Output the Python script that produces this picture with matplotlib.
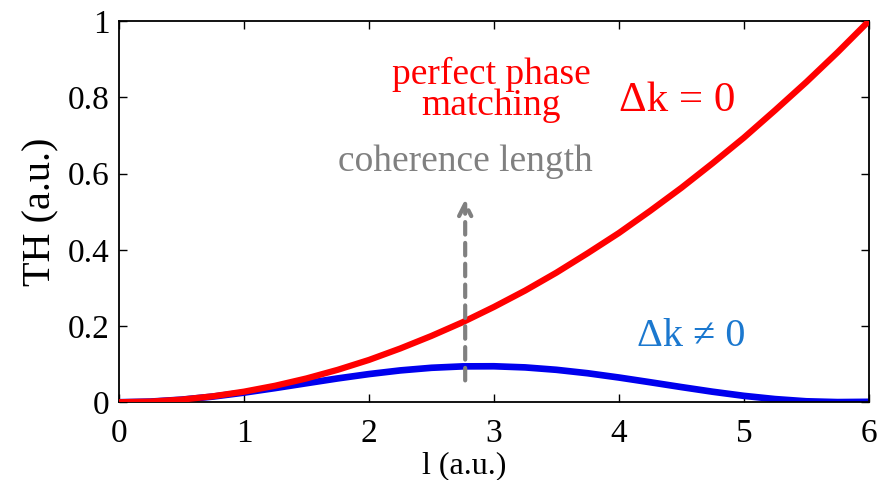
import matplotlib.pyplot as plt

# length l (a.u.)
l = [0, 0.25, 0.5, 0.75, 1, 1.25, 1.5, 1.75, 2, 2.25, 2.5, 2.75, 3,
     3.25, 3.5, 3.75, 4, 4.25, 4.5, 4.75, 5, 5.25, 5.5, 5.75, 6]

# Delta k = 0 (perfect phase matching)
th_matched = [0, 0.0017, 0.0069, 0.0156, 0.0278, 0.0434, 0.0625, 0.0851,
              0.111, 0.141, 0.174, 0.210, 0.25, 0.293, 0.340, 0.391, 0.444,
              0.502, 0.5625, 0.627, 0.694, 0.766, 0.840, 0.918, 1.0]

# Delta k != 0
th_mismatch = [0, 0.0017, 0.0068, 0.0148, 0.0252, 0.0372, 0.0499, 0.0625,
               0.0739, 0.0835, 0.0904, 0.0941, 0.0944, 0.0914, 0.0851,
               0.0761, 0.0649, 0.0525, 0.0398, 0.0276, 0.0168, 0.0083,
               0.0025, 0.0004, 0.0011]

xticks = [0, 1, 2, 3, 4, 5, 6]
yticks = [0, 0.2, 0.4, 0.6, 0.8, 1]
ytick_labels = ['0', '0.2', '0.4', '0.6', '0.8', '1']

plt.rcParams['font.family'] = ['Liberation Serif', 'DejaVu Serif']

fig, ax = plt.subplots(figsize=(8.82, 4.8), dpi=100)
fig.subplots_adjust(left=0.135, right=0.985, top=0.956, bottom=0.162)

ax.plot(l, th_mismatch, color='#0000ee', linewidth=4.8, zorder=2,
        solid_capstyle='butt')
ax.plot(l, th_matched, color='#ff0000', linewidth=4.5, zorder=3,
        solid_capstyle='butt')

# coherence length arrow
ax.annotate('', xy=(2.77, 0.54), xytext=(2.77, 0.05),
            arrowprops=dict(arrowstyle='->', color='#808080', lw=3,
                            linestyle=(0, (3, 2)), mutation_scale=22),
            zorder=4)

ax.text(2.77, 0.63, 'coherence length', color='#808080', fontsize=27,
        ha='center', va='center')
ax.text(2.98, 0.82, 'perfect phase\nmatching', color='#ff0000', fontsize=27,
        ha='center', va='center', linespacing=0.85)
ax.text(4.47, 0.79, '\u0394k = 0', color='#ff0000', fontsize=31,
        ha='center', va='center')
ax.text(4.58, 0.173, '\u0394k \u2260 0', color='#1b78cf', fontsize=29,
        ha='center', va='center')

ax.set_xlim(0, 6)
ax.set_ylim(0, 1)
ax.set_xticks(xticks)
ax.set_yticks(yticks)
ax.set_yticklabels(ytick_labels)
ax.tick_params(direction='in', length=6, width=1, labelsize=24,
               top=True, right=True)
ax.tick_params(axis='x', pad=12)
ax.tick_params(axis='y', pad=7)
for s in ax.spines.values():
    s.set_linewidth(1.3)

ax.set_xlabel('l (a.u.)', fontsize=23)
ax.xaxis.set_label_coords(0.461, -0.128)
ax.set_ylabel('TH (a.u.)', fontsize=29, labelpad=6)

fig.savefig('out.png', dpi=100)
